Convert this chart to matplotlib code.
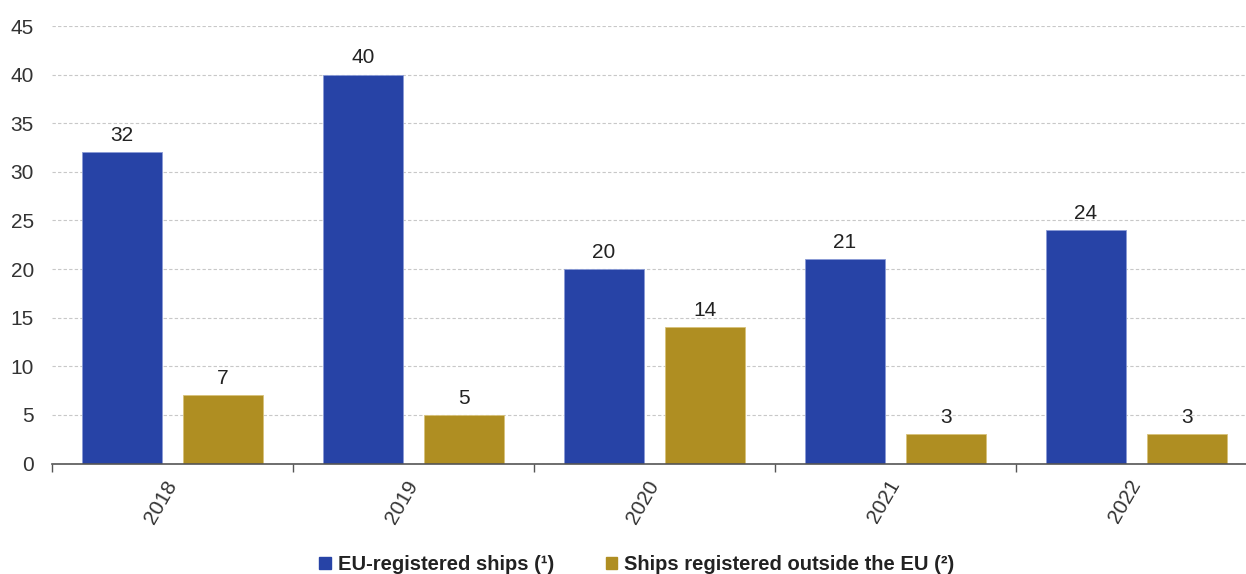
import matplotlib
matplotlib.use("Agg")
import matplotlib.pyplot as plt
import numpy as np

years = ["2018", "2019", "2020", "2021", "2022"]
eu_ships = [32, 40, 20, 21, 24]
non_eu_ships = [7, 5, 14, 3, 3]
series_labels = ["EU-registered ships (¹)", "Ships registered outside the EU (²)"]

BLUE = "#2743A6"
GOLD = "#AF8E22"

plt.rcParams["font.family"] = ["Liberation Sans", "DejaVu Sans"]

fig = plt.figure(figsize=(12.46, 5.74), dpi=100)
ax = fig.add_axes([52 / 1246, 110.5 / 574, 1205 / 1246, 437.5 / 574])

x = np.arange(len(years))
width = 0.334
offset = 0.2095

b1 = ax.bar(x - offset, eu_ships, width, color=BLUE, edgecolor="#8a9bd6",
            linewidth=0.6, zorder=3, label=series_labels[0])
b2 = ax.bar(x + offset, non_eu_ships, width, color=GOLD, edgecolor="#d8c27a",
            linewidth=0.6, zorder=3, label=series_labels[1])

for bars, vals in ((b1, eu_ships), (b2, non_eu_ships)):
    for rect, v in zip(bars, vals):
        ax.text(rect.get_x() + rect.get_width() / 2, v + 0.75, f"{v}",
                ha="center", va="bottom", fontsize=15, color="#222222")

ax.set_xlim(-0.5, len(years) - 0.5)
ax.set_ylim(0, 45)
ax.set_yticks(np.arange(0, 46, 5))
ax.yaxis.grid(True, linestyle=(0, (3, 2)), color="#c8c8c8", linewidth=0.8, zorder=0)
ax.tick_params(axis="y", length=0, labelsize=15, labelcolor="#333333", pad=13)

# Group boundary ticks on the major locator, year labels on the minor one
ax.set_xticks(np.arange(-0.5, len(years) + 0.5, 1.0))
ax.set_xticklabels([])
ax.set_xticks(x, minor=True)
ax.set_xticklabels(years, minor=True, rotation=60, ha="right", va="center",
                   rotation_mode="anchor", fontsize=15, color="#333333")
ax.tick_params(axis="x", which="major", length=6, color="#555555", width=1)
ax.tick_params(axis="x", which="minor", length=0, pad=13)

for side in ("left", "right", "top"):
    ax.spines[side].set_visible(False)
ax.spines["bottom"].set_color("#555555")
ax.spines["bottom"].set_linewidth(1.2)
ax.spines["bottom"].set_zorder(4)

handles = [plt.Rectangle((0, 0), 1, 1, color=BLUE), plt.Rectangle((0, 0), 1, 1, color=GOLD)]
leg = fig.legend(handles, series_labels, loc="center", bbox_to_anchor=(637 / 1246, 1 - 565 / 574),
                 ncol=2, frameon=False, handlelength=0.55, handleheight=0.55,
                 handletextpad=0.35, columnspacing=2.6,
                 prop={"weight": "bold", "size": 14.5})
for t in leg.get_texts():
    t.set_color("#222222")

fig.savefig("out.png", dpi=100)
